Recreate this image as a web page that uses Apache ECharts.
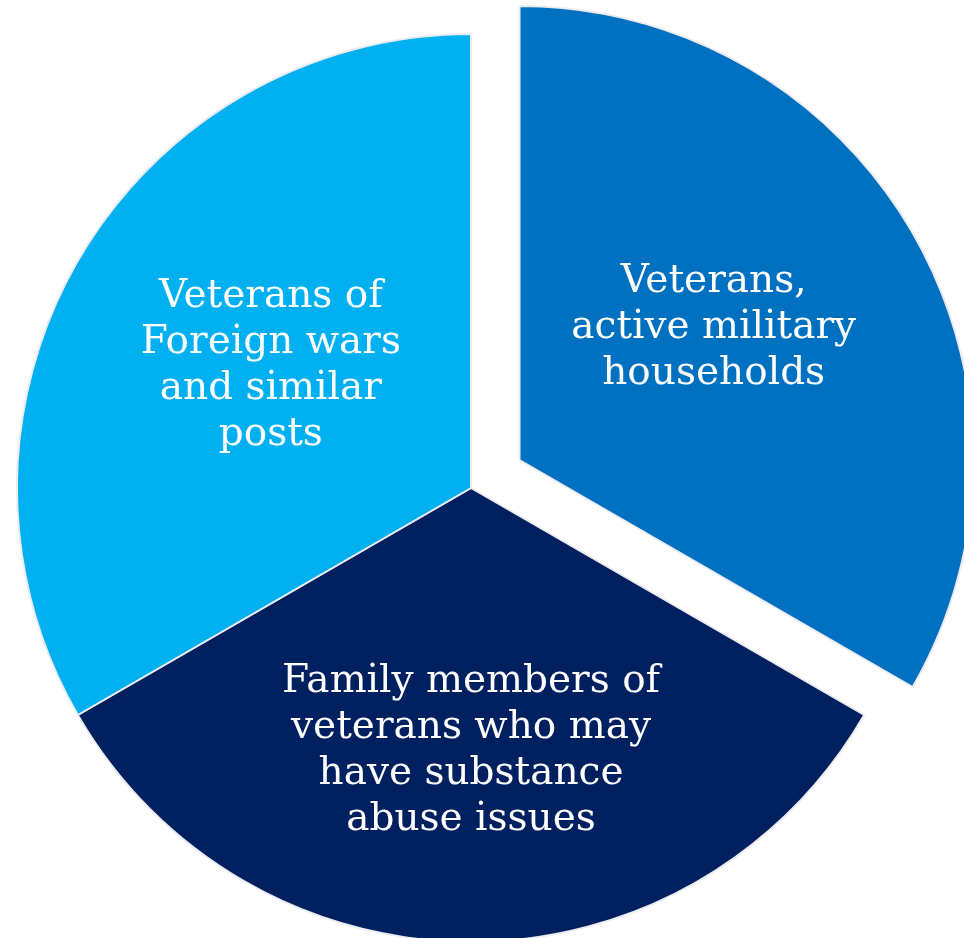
<!DOCTYPE html>
<html><head><meta charset="utf-8">
<script src="https://cdn.jsdelivr.net/npm/echarts@6/dist/echarts.min.js"></script>
<style>html,body{margin:0;padding:0;background:#fff;}#c{width:964px;height:938px;}</style>
</head><body><div id="c"></div>
<script>
const categories = [
  "Veterans,\nactive military\nhouseholds",
  "Family members of\nveterans who may\nhave substance\nabuse issues",
  "Veterans of\nForeign wars\nand similar\nposts"
];
const values = [1, 1, 1];
const colors = ["#0070C0", "#002060", "#00B0F0"];
const selectedFlags = [true, false, false];
const labelShift = [[-5, -17], [0, 33], [-1, -7]];

const chart = echarts.init(document.getElementById('c'), null, {renderer:'canvas'});
chart.setOption({
  animation: false,
  series: [{
    type: 'pie',
    center: [471, 488],
    radius: 454,
    startAngle: 90,
    clockwise: true,
    selectedMode: 'single',
    selectedOffset: 56,
    emphasis: {disabled: true},
    itemStyle: {borderColor: '#ececf2', borderWidth: 2},
    label: {
      position: 'inside',
      color: '#ffffff',
      fontFamily: 'DejaVu Serif',
      fontSize: 39,
      lineHeight: 46,
      align: 'center'
    },
    labelLayout: function (p) {
      return {dx: labelShift[p.dataIndex][0], dy: labelShift[p.dataIndex][1]};
    },
    labelLine: {show: false},
    data: categories.map((n, i) => ({
      name: n, value: values[i], selected: selectedFlags[i],
      itemStyle: {color: colors[i]}
    }))
  }]
});
</script></body></html>
